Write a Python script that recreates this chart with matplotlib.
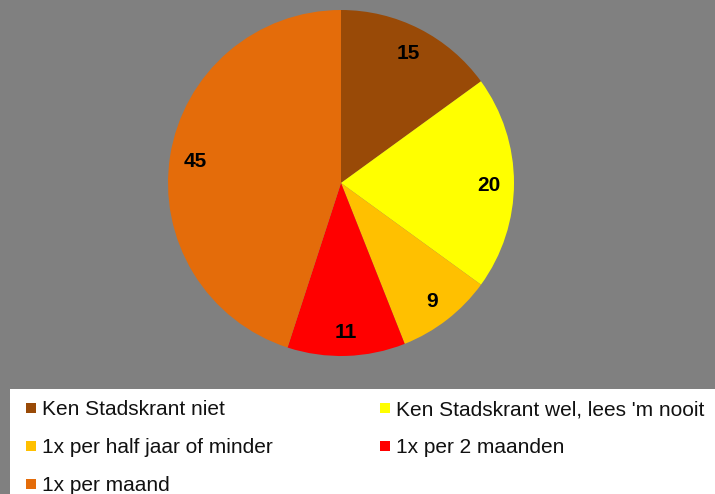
import matplotlib
matplotlib.use("Agg")
import matplotlib.pyplot as plt
from matplotlib.patches import Rectangle

# data
labels = ["Ken Stadskrant niet", "Ken Stadskrant wel, lees 'm nooit",
          "1x per half jaar of minder", "1x per 2 maanden", "1x per maand"]
values = [15, 20, 9, 11, 45]
colors = ["#994A07", "#FFFF00", "#FFC000", "#FF0000", "#E46C0A"]

W, H = 715, 494
fig = plt.figure(figsize=(W / 100, H / 100), dpi=100)
fig.patch.set_facecolor("#808080")
plt.rcParams["font.family"] = ["Liberation Sans", "DejaVu Sans"]

# pie axes: center (341,183) px, radius 173 px
cx, cy, r = 341, 183, 173
ax = fig.add_axes([(cx - r) / W, (H - cy - r) / H, 2 * r / W, 2 * r / H])
ax.set_facecolor("none")
wedges, texts = ax.pie(values, colors=colors, startangle=90, counterclock=False,
                       labels=[str(v) for v in values], labeldistance=0.855,
                       radius=1, wedgeprops=dict(linewidth=0))
for t in texts:
    t.set_fontsize(15)
    t.set_fontweight("bold")
    t.set_color("black")
    t.set_ha("center")
    t.set_va("center_baseline")
ax.set_xlim(-1, 1)
ax.set_ylim(-1, 1)
ax.axis("off")

# white legend panel
fig.patches.append(Rectangle((10 / W, 0), (W - 10) / W, (H - 389) / H,
                             transform=fig.transFigure, facecolor="white",
                             edgecolor="none", zorder=0))

col_x = [26, 380]
row_base = [415, 453, 491]
for i, (lab, col) in enumerate(zip(labels, colors)):
    x = col_x[i % 2]
    yb = row_base[i // 2]
    fig.patches.append(Rectangle((x / W, (H - yb + 2) / H), 10 / W, 10 / H,
                                 transform=fig.transFigure, facecolor=col,
                                 edgecolor="none", zorder=2))
    fig.text((x + 16) / W, (H - yb) / H, lab, fontsize=15, color="#111111",
             ha="left", va="baseline")

fig.savefig("out.png", dpi=100, facecolor=fig.get_facecolor())
